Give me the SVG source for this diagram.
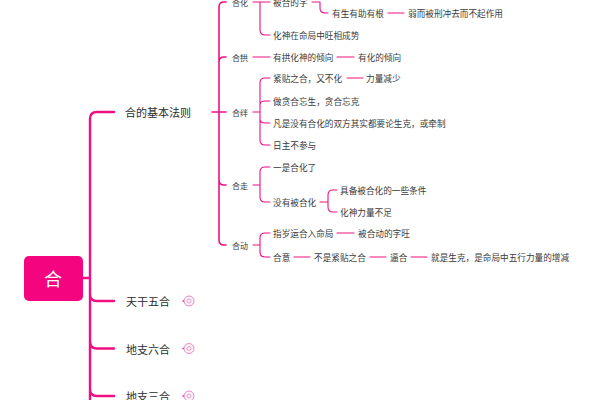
<svg xmlns="http://www.w3.org/2000/svg" width="600" height="400" viewBox="0 0 600 400">
<style>
text{font-family:"Noto Sans CJK SC","Liberation Sans",sans-serif;fill:#3a3a3a;dominant-baseline:central}
.t{font-size:8.65px}
.b{font-size:8px}
.m{font-size:11px;fill:#2c2c2c}
.r{font-size:18px;fill:#fff;text-anchor:middle}
.c{fill:none;stroke:#ee1080;stroke-linecap:round;stroke-linejoin:round}
.w1{stroke-width:2.4}
.w2{stroke-width:1.6}
.w3{stroke-width:1.1}
.o{fill:#fdf3f9;stroke:#e58ac0;stroke-width:1}
.i{fill:none;stroke:#dc8dbc;stroke-width:.8}
</style>
<rect width="600" height="400" fill="#fff"/>
<g id="connectors">
<path class="c w1" d="M83 278H90M114 112H97Q90 112 90 119V400M90 294Q90 301 97 301H114M90 341Q90 348.500 97 348.500H114M90 389Q90 396 97 396H114"/>
<path class="c w1" d="M183 301H184.500M183 348.500H184.500M183 396H184.500" style="stroke-width:1.3"/>
<path class="c w2" d="M212 112H226M226 2H224Q219 2 219 7V240Q219 245 224 245H226M219 62Q219 57 224 57H226M219 180Q219 185 224 185H226"/>
<path class="c w3" d="M253 2H270M260 2V30Q260 35 265 35H270M312 2H320V8Q320 13 325 13H328M388 13H404"/>
<path class="c w3" d="M253 57H270M337 57H354"/>
<path class="c w3" d="M253 112H260M270 78H265Q260 78 260 83V140Q260 145 265 145H270M260 105Q260 101 265 101H270M260 119Q260 123 265 123H270M347 78H363"/>
<path class="c w3" d="M253 185H260M270 167H265Q260 167 260 172V197Q260 202 265 202H270"/>
<path class="c w3" d="M320 202H328M337 190H333Q328 190 328 195V207Q328 212 333 212H337"/>
<path class="c w3" d="M253 245H260M270 233H265Q260 233 260 238V252Q260 257 265 257H270M337 233H354M294 257H310M370 257H386M411 257H427"/>
</g>
<g id="root"><rect x="24" y="256" width="59" height="45" rx="5" fill="#f5047f"/><text class="r" x="53" y="278">合</text></g>
<g id="n-main"><text class="m" x="125" y="112">合的基本法则</text></g>
<g id="n-tg"><text class="m" x="126" y="301">天干五合</text><circle class="o" cx="189" cy="301" r="5"/><circle class="i" cx="189" cy="301" r="2"/></g>
<g id="n-dz6"><text class="m" x="126" y="348.500">地支六合</text><circle class="o" cx="189" cy="348.500" r="5"/><circle class="i" cx="189" cy="348.500" r="2"/></g>
<g id="n-dz3"><text class="m" x="126" y="396">地支三合</text><circle class="o" cx="189" cy="396" r="5"/><circle class="i" cx="189" cy="396" r="2"/></g>
<g id="n-hehua"><text class="b" x="232" y="2">合化</text><text class="t" x="273" y="2">被合的字</text><text class="t" x="332" y="13">有生有助有根</text><text class="t" x="408" y="13">弱而被刑冲去而不起作用</text><text class="t" x="273" y="35">化神在命局中旺相成势</text></g>
<g id="n-hegong"><text class="b" x="232" y="57">合拱</text><text class="t" x="273" y="57">有拱化神的倾向</text><text class="t" x="358" y="57">有化的倾向</text></g>
<g id="n-heban"><text class="b" x="232" y="112">合绊</text><text class="t" x="273" y="78">紧贴之合，又不化</text><text class="t" x="366" y="78">力量减少</text><text class="t" x="273" y="101">做贪合忘生，贪合忘克</text><text class="t" x="273" y="123">凡是没有合化的双方其实都要论生克，或牵制</text><text class="t" x="273" y="145">日主不参与</text></g>
<g id="n-hezou"><text class="b" x="232" y="185">合走</text><text class="t" x="273" y="167">一是合化了</text><text class="t" x="273" y="202">没有被合化</text><text class="t" x="340" y="190">具备被合化的一些条件</text><text class="t" x="340" y="212">化神力量不足</text></g>
<g id="n-hedong"><text class="b" x="232" y="245">合动</text><text class="t" x="273" y="233">指岁运合入命局</text><text class="t" x="358" y="233">被合动的字旺</text><text class="t" x="273" y="257">合意</text><text class="t" x="314" y="257">不是紧贴之合</text><text class="t" x="390" y="257">逼合</text><text class="t" x="431" y="257">就是生克，是命局中五行力量的增减</text></g>
</svg>
